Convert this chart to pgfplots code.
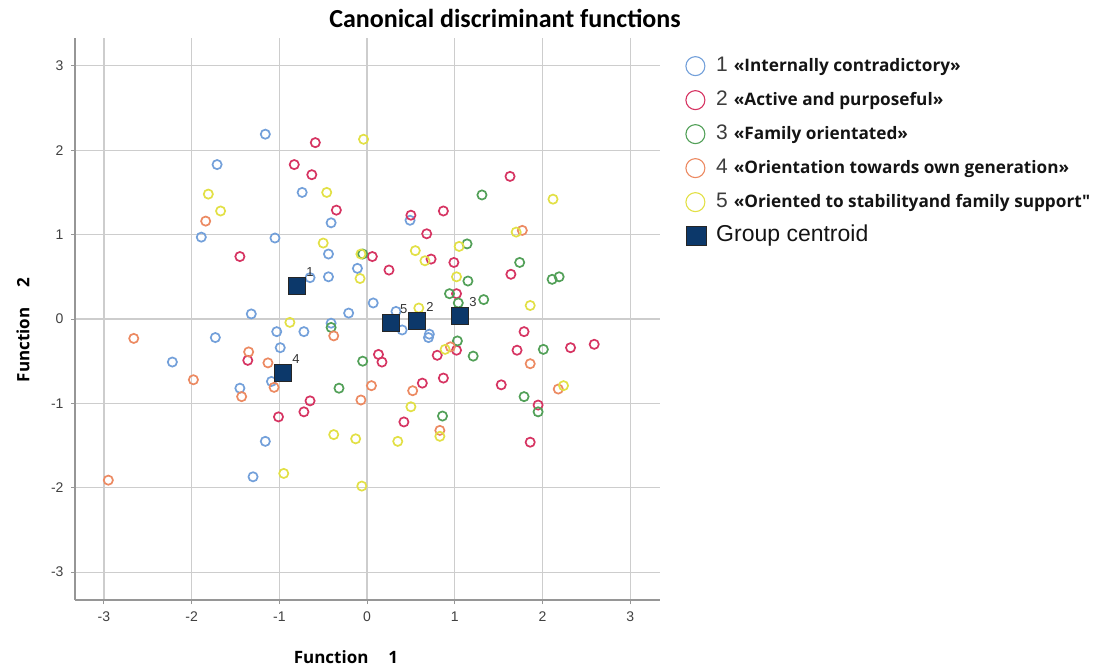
\documentclass[border=0pt]{standalone}
\usepackage{pgfplots}
\pgfplotsset{compat=1.18}
\usepackage{fontspec}
\setmainfont{Liberation Sans}
\newfontfamily\titlefont{Carlito}
\newfontfamily\legfont{Open Sans}
\definecolor{cblue}{RGB}{115,160,218}
\definecolor{cred}{RGB}{214,52,98}
\definecolor{cgreen}{RGB}{82,160,88}
\definecolor{corange}{RGB}{236,138,98}
\definecolor{cyellow}{RGB}{226,224,70}
\definecolor{cnavy}{RGB}{12,56,106}
\definecolor{gridc}{RGB}{205,205,205}
\definecolor{axc}{RGB}{150,150,150}
\newcommand\numf{\fontsize{21}{21}\selectfont\color[RGB]{60,60,60}}
\newcommand\legf{\legfont\bfseries\fontsize{17.2}{17.2}\selectfont\color[RGB]{20,20,20}}
\begin{document}
\begin{tikzpicture}
\path[use as bounding box] (-75pt,-70pt) rectangle (1025pt,600pt);
\begin{axis}[
  scale only axis,
  width=585pt, height=562pt,
  xmin=-3.33, xmax=3.34, ymin=-3.33, ymax=3.33,
  axis x line=bottom, axis y line=left,
  axis line style={-, color=axc, line width=1.4pt},
  xtick={-3,-2,-1,0,1,2,3}, ytick={-3,-2,-1,0,1,2,3},
  grid=major,
  major grid style={color=gridc, line width=1.3pt},
  tick align=outside, major tick length=4pt,
  tick style={color=axc, line width=1pt},
  /pgf/number format/assume math mode=true,
  ticklabel style={font=\fontsize{14}{14}\selectfont, text=black!75},
  xticklabel style={yshift=-4pt},
  yticklabel style={xshift=-4pt},
  clip=false,
  legend style={at={(1.043,0.969)}, anchor=north west, draw=none, fill=none,
    inner sep=0pt, row sep=13pt,
    nodes={inner sep=1pt, text height=15pt, text depth=4pt},
    /tikz/every odd column/.append style={column sep=9pt}},
  legend cell align=left,
]
\addplot[only marks, mark=o, mark size=4.6pt, mark options={draw=cblue, line width=1.7pt},
  legend image code/.code={\draw[draw=cblue, line width=1.1pt] (9.5pt,0pt) circle (9.5pt);}]
  coordinates {
(-1.16,2.19) (-1.71,1.83) (-0.74,1.50) (-0.41,1.14) (-1.89,0.97) (-1.05,0.96)
(-0.44,0.77) (-0.11,0.60) (-0.44,0.50) (-0.65,0.49) (0.07,0.19) (-0.21,0.07)
(-1.32,0.06) (-0.41,-0.05) (-1.03,-0.15) (-0.72,-0.15) (-1.73,-0.22) (-0.99,-0.34)
(-2.22,-0.51) (-1.09,-0.74) (-1.45,-0.82) (-1.16,-1.45) (-1.30,-1.87) (0.49,1.17)
(0.33,0.09) (0.40,-0.13) (0.71,-0.18) (0.70,-0.22)
};
\addlegendentry{{\numf 1}\hspace{6pt}{\legf «Internally contradictory»}}
\addplot[only marks, mark=o, mark size=4.6pt, mark options={draw=cred, line width=1.7pt},
  legend image code/.code={\draw[draw=cred, line width=1.1pt] (9.5pt,0pt) circle (9.5pt);}]
  coordinates {
(-0.59,2.09) (-0.83,1.83) (-0.63,1.71) (-0.35,1.29) (-1.45,0.74) (0.06,0.74)
(1.63,1.69) (0.50,1.23) (0.87,1.28) (0.68,1.01) (0.73,0.71) (0.25,0.58)
(0.99,0.67) (1.64,0.53) (1.02,0.30) (-1.36,-0.49) (-0.65,-0.97) (-0.72,-1.10)
(-1.01,-1.16) (0.13,-0.42) (0.17,-0.51) (1.79,-0.15) (1.02,-0.37) (0.80,-0.43)
(1.71,-0.37) (2.32,-0.34) (2.59,-0.30) (0.63,-0.76) (0.87,-0.70) (1.53,-0.78)
(1.95,-1.02) (0.42,-1.22) (1.86,-1.46)
};
\addlegendentry{{\numf 2}\hspace{6pt}{\legf «Active and purposeful»}}
\addplot[only marks, mark=o, mark size=4.6pt, mark options={draw=cgreen, line width=1.7pt},
  legend image code/.code={\draw[draw=cgreen, line width=1.1pt] (9.5pt,0pt) circle (9.5pt);}]
  coordinates {
(1.31,1.47) (1.14,0.89) (-0.05,0.77) (1.74,0.67) (2.11,0.47) (2.19,0.50)
(1.15,0.45) (0.94,0.30) (1.33,0.23) (1.04,0.19) (-0.41,-0.10) (1.03,-0.26)
(1.21,-0.44) (2.01,-0.36) (-0.05,-0.50) (-0.32,-0.82) (1.79,-0.92) (1.95,-1.10)
(0.86,-1.15)
};
\addlegendentry{{\numf 3}\hspace{6pt}{\legf «Family orientated»}}
\addplot[only marks, mark=o, mark size=4.6pt, mark options={draw=corange, line width=1.7pt},
  legend image code/.code={\draw[draw=corange, line width=1.1pt] (9.5pt,0pt) circle (9.5pt);}]
  coordinates {
(-1.84,1.16) (1.77,1.05) (-0.38,-0.20) (-2.66,-0.23) (-1.35,-0.39) (-1.13,-0.52)
(-1.98,-0.72) (-1.06,-0.81) (-1.43,-0.92) (0.05,-0.79) (-0.07,-0.96) (0.95,-0.33)
(1.86,-0.53) (0.52,-0.85) (2.18,-0.83) (0.83,-1.32) (-2.95,-1.91)
};
\addlegendentry{{\numf 4}\hspace{6pt}{\legf «Orientation towards own generation»}}
\addplot[only marks, mark=o, mark size=4.6pt, mark options={draw=cyellow, line width=1.7pt},
  legend image code/.code={\draw[draw=cyellow, line width=1.1pt] (9.5pt,0pt) circle (9.5pt);}]
  coordinates {
(-0.04,2.13) (-0.46,1.50) (-1.81,1.48) (-1.67,1.28) (-0.50,0.90) (-0.07,0.77)
(-0.08,0.48) (2.12,1.42) (1.70,1.03) (1.05,0.86) (0.55,0.81) (0.66,0.69)
(1.02,0.50) (1.86,0.16) (0.59,0.13) (-0.88,-0.04) (0.89,-0.36) (2.24,-0.79)
(0.50,-1.04) (-0.38,-1.37) (-0.13,-1.42) (0.35,-1.45) (0.83,-1.39) (-0.95,-1.83)
(-0.06,-1.98)
};
\addlegendentry{{\numf 5}\hspace{6pt}{\legf «Oriented to stabilityand family support"}}
\addplot[only marks, mark=square*, mark size=8.5pt,
  mark options={fill=cnavy, draw=black!85, line width=0.8pt},
  nodes near coords, point meta=explicit symbolic,
  nodes near coords style={anchor=center, xshift=13pt, yshift=14pt,
    font=\fontsize{13}{13}\selectfont, text=black!80},
  legend image code/.code={\draw[fill=cnavy, draw=black!85, line width=0.6pt] (0pt,-9.5pt) rectangle (20pt,9.5pt);}]
  table[meta=lab] {
x y lab
-0.80 0.39 1
0.57 -0.02 2
1.06 0.035 3
-0.96 -0.64 4
0.27 -0.05 5
};
\addlegendentry{{\fontsize{23}{23}\selectfont\color[RGB]{20,20,20}Group centroid}}
\end{axis}
\node[font=\titlefont\bfseries\fontsize{26}{26}\selectfont, anchor=base] at (430pt,572pt) {Canonical discriminant functions};
\node[font=\legfont\bfseries\fontsize{17}{17}\selectfont, anchor=center] at (271pt,-57pt) {Function\hspace{20pt}1};
\node[font=\legfont\bfseries\fontsize{17}{17}\selectfont, anchor=center, rotate=90] at (-52pt,270pt) {Function\hspace{20pt}2};
\end{tikzpicture}
\end{document}
